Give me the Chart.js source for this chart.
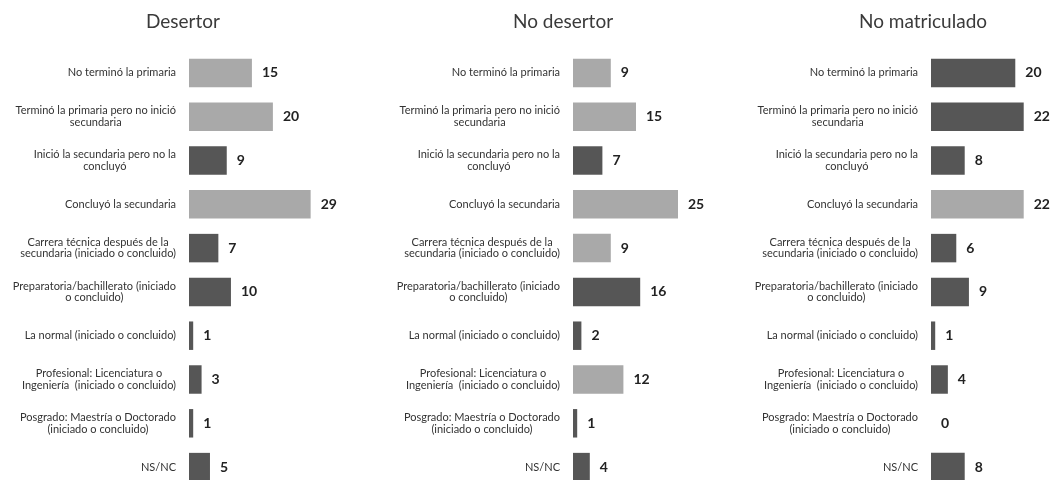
<!DOCTYPE html>
<html>
<head>
<meta charset="utf-8">
<script src="https://cdn.jsdelivr.net/npm/chart.js@4.4.1/dist/chart.umd.min.js"></script>
<style>
    html, body { margin: 0; padding: 0; background: #fff; overflow: hidden; }
    #wrap { position: relative; width: 1051px; height: 480px; overflow: hidden; }
    .panel { position: absolute; top: 0; height: 490px; }
</style>
</head>
<body>
<div id="wrap">
    <div class="panel" style="left:0;width:350px"><canvas id="c1"></canvas></div>
    <div class="panel" style="left:350px;width:370px"><canvas id="c2"></canvas></div>
    <div class="panel" style="left:700px;width:351px"><canvas id="c3"></canvas></div>
</div>
<script>
// categories (each entry = lines of the label)
const categories = [
    ['No terminó la primaria'],
    ['Terminó la primaria pero no inició', 'secundaria'],
    ['Inició la secundaria pero no la', 'concluyó'],
    ['Concluyó la secundaria'],
    ['Carrera técnica después de la', 'secundaria (iniciado o concluido)'],
    ['Preparatoria/bachillerato (iniciado', 'o concluido)'],
    ['La normal (iniciado o concluido)'],
    ['Profesional: Licenciatura o', 'Ingeniería  (iniciado o concluido)'],
    ['Posgrado: Maestría o Doctorado', '(iniciado o concluido)'],
    ['NS/NC']
];

// series values
const desertor = [15, 20, 9, 29, 7, 10, 1, 3, 1, 5];
const noDesertor = [9, 15, 7, 25, 9, 16, 2, 12, 1, 4];
const noMatriculado = [20, 22, 8, 22, 6, 9, 1, 4, 0, 8];

// bar shade per category (L = light, D = dark)
const desertorShade = ['L', 'L', 'D', 'L', 'D', 'D', 'D', 'D', 'D', 'D'];
const noDesertorShade = ['L', 'L', 'D', 'L', 'L', 'D', 'D', 'L', 'D', 'D'];
const noMatriculadoShade = ['D', 'D', 'D', 'L', 'D', 'D', 'D', 'D', 'D', 'D'];

const SHADES = { L: '#a9a9a9', D: '#565656' };
const FONT = 'Lato, "Open Sans", sans-serif';

// draws title, category labels and the value next to each bar
const panelText = {
    id: 'panelText',
    afterDatasetsDraw(chart, args, opts) {
        const ctx = chart.ctx;
        const yScale = chart.scales.y;
        const area = chart.chartArea;
        ctx.save();

        // title
        ctx.fillStyle = '#3a3a3a';
        ctx.font = '19px ' + FONT;
        ctx.textAlign = 'center';
        ctx.textBaseline = 'alphabetic';
        ctx.fillText(opts.title, opts.titleX, 28);

        // category labels: block right aligned, lines centred inside it
        ctx.font = '11px ' + FONT;
        ctx.fillStyle = '#333';
        ctx.textBaseline = 'middle';
        const right = area.left - 13;
        categories.forEach((lines, i) => {
            const y = yScale.getPixelForValue(i);
            const w = Math.max(...lines.map(l => ctx.measureText(l).width));
            const cx = right - w / 2;
            const lh = 11.5;
            lines.forEach((l, k) => {
                ctx.fillText(l, cx, y + (k - (lines.length - 1) / 2) * lh);
            });
        });

        // values
        ctx.font = 'bold 14px ' + FONT;
        ctx.fillStyle = '#222';
        ctx.textAlign = 'left';
        const meta = chart.getDatasetMeta(0);
        meta.data.forEach((bar, i) => {
            ctx.fillText(String(chart.data.datasets[0].data[i]), bar.x + 10, bar.y);
        });
        ctx.restore();
    }
};

const makePanel = (id, values, shades, title, titleX, left, right, xMax) => {
    new Chart(document.getElementById(id), {
        type: 'bar',
        data: {
            labels: categories.map(c => c.join(' ')),
            datasets: [{
                data: values,
                backgroundColor: shades.map(s => SHADES[s]),
                barPercentage: 0.65,
                categoryPercentage: 1
            }]
        },
        options: {
            indexAxis: 'y',
            responsive: true,
            maintainAspectRatio: false,
            animation: false,
            layout: { padding: { left: left, right: right, top: 51, bottom: 1 } },
            scales: {
                x: { display: false, min: 0, max: xMax },
                y: { display: false, offset: true }
            },
            plugins: {
                legend: { display: false },
                tooltip: { enabled: false },
                panelText: { title: title, titleX: titleX }
            }
        },
        plugins: [panelText]
    });
};

makePanel('c1', desertor, desertorShade, 'Desertor', 183, 189, 10, 36);
makePanel('c2', noDesertor, noDesertorShade, 'No desertor', 213, 223, 21, 30);
makePanel('c3', noMatriculado, noMatriculadoShade, 'No matriculado', 223, 231, 2, 28);
</script>
</body>
</html>
